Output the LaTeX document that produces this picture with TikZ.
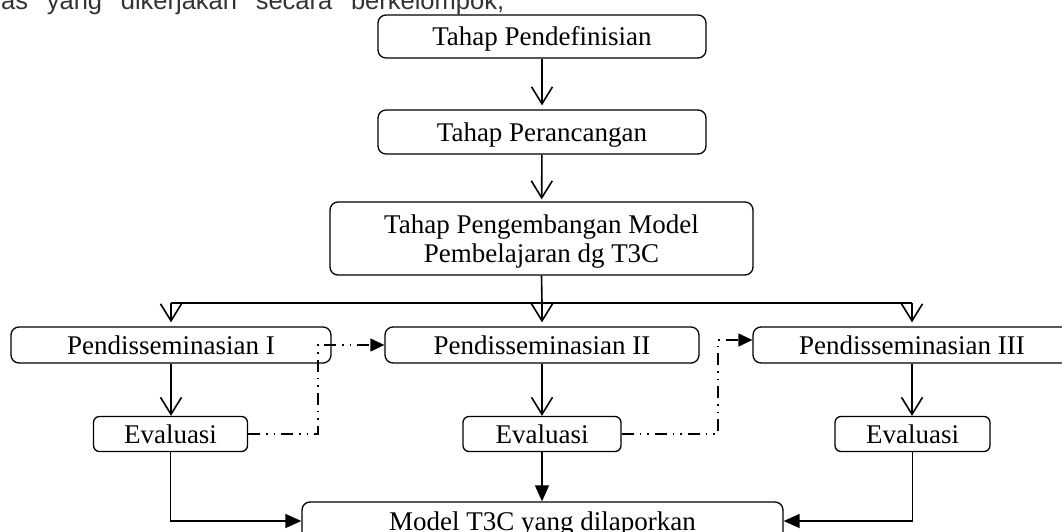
\documentclass[tikz,border=0pt]{standalone}
\usepackage{fontspec}
\setmainfont{Liberation Serif}
\newfontfamily\topfont{Liberation Sans}
\usetikzlibrary{arrows.meta}
\begin{document}
\begin{tikzpicture}[x=1pt,y=-1pt,
  box/.style={draw, line width=1.3pt, rounded corners=8pt, inner sep=0pt,
    font=\fontsize{27}{29}\selectfont, text height=18pt, text depth=0pt, align=center},
  ebox/.style={box, rounded corners=6pt},
  conn/.style={line width=1.6pt},
  openarrow/.style={conn, -{Straight Barb[length=17pt,width=21pt]}},
  solidarrow/.style={line width=1.4pt, -{Triangle[length=16pt,width=14pt]}},
  dd/.style={line width=1.3pt, dash pattern=on 12pt off 6pt on 1.5pt off 6pt on 1.5pt off 6pt,
    -{Triangle[length=14pt,width=13pt]}},
]
\useasboundingbox (0,0) rectangle (1062,532);

\node[anchor=base west, inner sep=0pt, font=\topfont\fontsize{25.5}{28}\selectfont, text=black!80] (top) at (1,9.5)
  {\makebox[503pt][s]{as yang dikerjakan secara berkelompok,}};

\node[box, minimum width=328pt, minimum height=43pt] (b1) at (542,36.5) {Tahap Pendefinisian};
\node[box, minimum width=328pt, minimum height=44pt] (b2) at (542,132) {Tahap Perancangan};
\node[box, minimum width=423pt, minimum height=73pt, text height=47pt] (b3) at (541.5,238.5)
  {Tahap Pengembangan Model\\Pembelajaran dg T3C};
\node[box, minimum width=320pt, minimum height=36pt] (p1) at (171,345) {Pendisseminasian I};
\node[box, minimum width=314pt, minimum height=36pt] (p2) at (542,345) {Pendisseminasian II};
\node[box, minimum width=318pt, minimum height=36pt] (p3) at (912,345) {Pendisseminasian III};
\node[ebox, minimum width=154pt, minimum height=35pt] (e1) at (170.5,434) {Evaluasi};
\node[ebox, minimum width=158pt, minimum height=35pt] (e2) at (542,434) {Evaluasi};
\node[ebox, minimum width=155pt, minimum height=35pt] (e3) at (912.5,434) {Evaluasi};
\node[box, minimum width=481pt, minimum height=38pt] (m) at (542.5,521) {Model T3C yang dilaporkan};

\draw[openarrow, shorten >=4pt] (b1) -- (b2);
\draw[openarrow, shorten >=2pt] (b2) -- (b3);

\coordinate (jn) at (542,303);
\coordinate (jl) at (171,303);
\coordinate (jr) at (912,303);
\draw[conn] (b3.south) -- (jn);
\draw[conn] (jl) -- (jr);
\draw[openarrow, shorten >=4pt] (jl) -- (p1.north);
\draw[openarrow, shorten >=4pt] (jn) -- (p2.north);
\draw[openarrow, shorten >=4pt] (jr) -- (p3.north);

\draw[openarrow] (p1.south) -- (p1.south |- e1.north);
\draw[openarrow] (p2.south) -- (p2.south |- e2.north);
\draw[openarrow] (p3.south) -- (p3.south |- e3.north);

\draw[solidarrow] (e2.south) -- (e2.south |- m.north);
\draw[solidarrow] (e1.south) |- (m.west);
\draw[solidarrow] (e3.south) |- (m.east);

\coordinate (d1) at (318,345);
\draw[dd] (e1.east) -| (d1) -- (p2.west);
\coordinate (d2) at (718,340);
\draw[dd] (e2.east) -| (d2) -- (d2 -| p3.west);
\end{tikzpicture}
\end{document}
